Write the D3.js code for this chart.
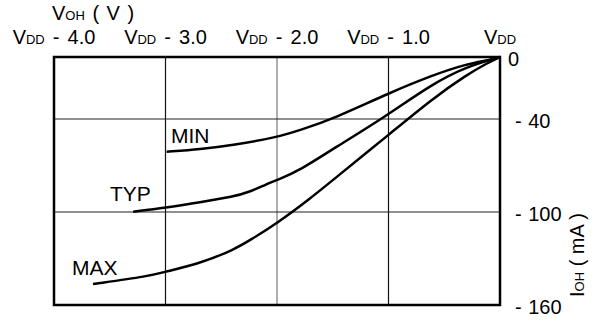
<!DOCTYPE html>
<html><head><meta charset="utf-8">
<script src="https://cdn.jsdelivr.net/npm/d3@7"></script>
<style>body{margin:0;background:#fff}svg{display:block}text{font-family:"Liberation Sans",Arial,sans-serif;fill:#000}</style>
</head><body><svg id="c" width="598" height="320"></svg>
<script>
const xTicks = [-4, -3, -2, -1, 0];
const xTickLabels = ["- 4.0", "- 3.0", "- 2.0", "- 1.0", ""];
const yTicks = [0, -40, -100, -160];
const yTickLabels = ["0", "- 40", "- 100", "- 160"];
const minV = [-2.99, -2.69, -2.39, -2.0, -1.79, -1.5, -1.0, -0.6, -0.3, -0.09, 0];
const minI = [-61.1, -59.5, -56.8, -51.8, -47.1, -40.0, -23.4, -11.6, -4.5, -1.9, 0];
const typV = [-3.29, -3.0, -2.69, -2.39, -2.24, -2.09, -2.0, -1.79, -1.49, -1.05, -0.6, -0.3, 0];
const typI = [-99.8, -97.2, -93.7, -90.1, -86.9, -81.9, -79.4, -72.9, -58.9, -39.5, -17.0, -6.3, 0];
const maxV = [-3.65, -3.14, -3.0, -2.69, -2.39, -2.24, -2.0, -1.7, -1.5, -1.0, -0.6, -0.3, -0.12, 0];
const maxI = [-146.5, -141.3, -138.5, -133.1, -124.5, -118.1, -107.3, -91.2, -79.4, -50.3, -26.6, -11.6, -4.1, 0];
const seriesNames = ["MIN", "TYP", "MAX"];

const svg = d3.select("#c");
const L = 54, R = 500, T = 57, B = 305;
const x = d3.scaleLinear().domain([-4, 0]).range([L, R]);
const y = d3.scaleLinear().domain([0, -160]).range([T, B]);

// grid
svg.append("g").selectAll("line").data([-3, -2, -1]).join("line")
  .attr("x1", d => x(d)).attr("x2", d => x(d)).attr("y1", T).attr("y2", B)
  .attr("stroke", d => d === -2 ? "#777" : "#111").attr("stroke-width", 1.2);
svg.append("g").selectAll("line").data([-40, -100]).join("line")
  .attr("y1", d => y(d)).attr("y2", d => y(d)).attr("x1", L).attr("x2", R)
  .attr("stroke", "#222").attr("stroke-width", 1.2);

// curves
const series = [
  {name: seriesNames[0], v: minV, i: minI, lx: 171, ly: 143},
  {name: seriesNames[1], v: typV, i: typI, lx: 110, ly: 201},
  {name: seriesNames[2], v: maxV, i: maxI, lx: 72, ly: 275}
];
const line = d3.line().x(d => x(d[0])).y(d => y(d[1])).curve(d3.curveBasis);
svg.append("g").selectAll("path").data(series).join("path")
  .attr("d", s => line(s.v.map((v, k) => [v, s.i[k]])))
  .attr("fill", "none").attr("stroke", "#000").attr("stroke-width", 2.5);
svg.append("g").selectAll("text").data(series).join("text")
  .attr("x", s => s.lx).attr("y", s => s.ly).attr("font-size", 21).text(s => s.name);

// frame
svg.append("rect").attr("x", L).attr("y", T).attr("width", R - L).attr("height", B - T)
  .attr("fill", "none").attr("stroke", "#000").attr("stroke-width", 2.5);

// x tick labels (top)
const xt = svg.append("g").selectAll("text").data(xTicks).join("text")
  .attr("x", d => x(d)).attr("y", 44).attr("text-anchor", "middle")
  .attr("font-size", 20).attr("word-spacing", 2.5).attr("xml:space", "preserve");
xt.append("tspan").text("V");
xt.append("tspan").attr("font-size", 13).text("DD");
xt.append("tspan").text((d, k) => xTickLabels[k] ? " " + xTickLabels[k] : "");

// x axis title
const xtitle = svg.append("text").attr("x", 52).attr("y", 20).attr("font-size", 20)
  .attr("word-spacing", 2).attr("xml:space", "preserve");
xtitle.append("tspan").text("V");
xtitle.append("tspan").attr("font-size", 13).text("OH");
xtitle.append("tspan").text(" ( V )");

// y tick labels (right)
svg.append("g").selectAll("text").data(yTicks).join("text")
  .attr("x", (d, k) => k === 0 ? 508 : 515).attr("y", d => y(d) + 8.5)
  .attr("font-size", 20).attr("word-spacing", 1).attr("xml:space", "preserve")
  .text((d, k) => yTickLabels[k]);

// y axis title
const yt = svg.append("text").attr("transform", "translate(584,255) rotate(-90)")
  .attr("text-anchor", "middle").attr("font-size", 20).attr("xml:space", "preserve");
yt.append("tspan").text("I");
yt.append("tspan").attr("font-size", 13).text("OH");
yt.append("tspan").text(" ( mA )");
</script></body></html>
